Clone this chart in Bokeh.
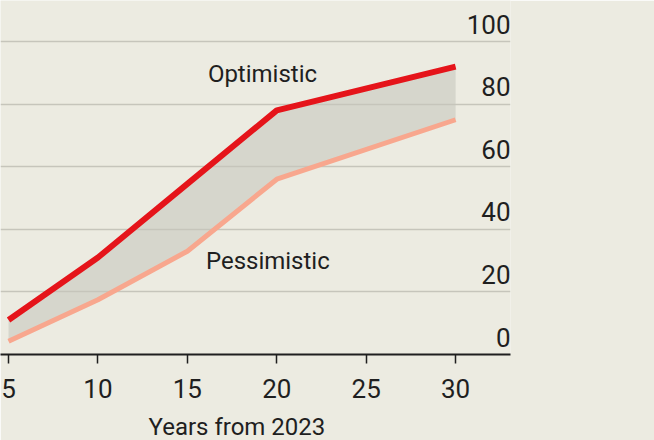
from bokeh.plotting import figure
from bokeh.models import Range1d, FixedTicker, Title, ColumnDataSource
from bokeh.core.properties import value
from bokeh.embed import file_html
from bokeh.resources import INLINE

# ---- data ----
years = [5, 10, 15, 20, 30]
optimistic = [11, 31, 54.5, 78, 92]
pessimistic = [4.2, 17.5, 33, 56, 75]
x_ticks = [5, 10, 15, 20, 25, 30]
y_ticks = [0, 20, 40, 60, 80, 100]
y_tick_labels = ["0", "20", "40", "60", "80", "100"]
x_label = "Years from 2023"
series_names = ["Optimistic", "Pessimistic"]

FONT = "Roboto"
BG = "#ecebe1"
RED = "#e5141a"
SALMON = "#f8a78e"
SHADE = "#d6d6cc"
GRID = "#c6c5bb"
INK = "#1f1f1f"

X0, X1 = 4.55, 33.07
Y0, Y1 = 0, 113.1

p = figure(width=654, height=440, frame_width=510, frame_height=354,
           x_range=Range1d(X0, X1), y_range=Range1d(Y0, Y1),
           output_backend="svg", toolbar_location=None,
           y_axis_location=None, min_border_left=0, min_border_right=144,
           min_border_top=0, min_border_bottom=86,
           background_fill_color=BG, border_fill_color=BG, outline_line_color=None)

# grid
p.xgrid.visible = False
p.ygrid.ticker = FixedTicker(ticks=y_ticks[1:])
p.ygrid.grid_line_color = GRID
p.ygrid.grid_line_width = 1.5

# shaded band (below the gridlines)
src = ColumnDataSource(dict(x=years, lo=pessimistic, hi=optimistic))
p.varea(x="x", y1="lo", y2="hi", source=src, fill_color=SHADE, level="image")
p.line(x="x", y="lo", source=src, line_color=SALMON, line_width=5)
p.line(x="x", y="hi", source=src, line_color=RED, line_width=6)

# y tick labels above gridlines at right edge
p.text(x=[X1] * len(y_ticks), y=y_ticks, text=y_tick_labels,
       text_align="right", text_baseline="bottom", y_offset=-8,
       text_font=value(FONT), text_font_size="26px", text_color=INK)

# series labels
p.text(x=[19.2, 19.5], y=[89.6, 30], text=series_names,
       text_align="center", text_baseline="middle",
       text_font=value(FONT), text_font_size="24px", text_color=INK)

# x axis
ax = p.xaxis[0]
ax.ticker = FixedTicker(ticks=x_ticks)
ax.axis_line_color = INK
ax.axis_line_width = 2
ax.major_tick_line_color = INK
ax.major_tick_line_width = 1.5
ax.major_tick_out = 9
ax.major_tick_in = 0
ax.minor_tick_line_color = None
ax.major_label_text_font = FONT
ax.major_label_text_font_size = "26px"
ax.major_label_text_color = INK
ax.major_label_standoff = 15

t = Title(text=x_label, align="left", offset=148,
          text_font=FONT, text_font_size="24px", text_font_style="normal",
          text_color=INK, standoff=20)
p.add_layout(t, "below")

open("out.html", "w").write(file_html(p, INLINE))
